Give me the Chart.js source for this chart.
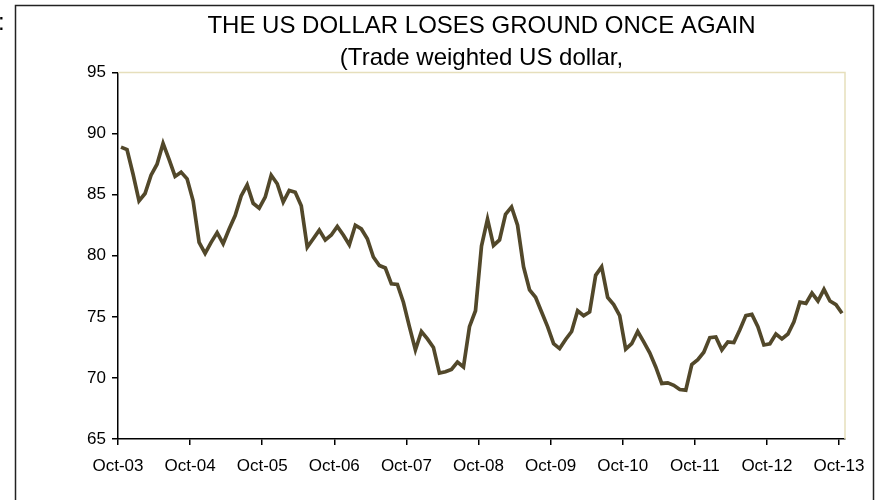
<!DOCTYPE html>
<html>
<head>
<meta charset="utf-8">
<script src="https://cdn.jsdelivr.net/npm/chart.js@4"></script>
<style>
  body { margin: 0; background: #fff; }
  #wrap { width: 880px; height: 500px; }
</style>
</head>
<body>
<div id="wrap"><canvas id="usd" width="880" height="500"></canvas></div>
<script>
// trade weighted US dollar, monthly Oct-03 .. Oct-13
const months = 121;
const dollarIndex = [
  88.9, 88.7, 86.7, 84.5, 85.1, 86.6, 87.5, 89.2, 87.9, 86.5,
  86.85, 86.3, 84.5, 81.1, 80.2, 81.1, 81.9, 81.0, 82.2, 83.3,
  84.9, 85.8, 84.3, 83.9, 84.8, 86.6, 85.9, 84.4, 85.35, 85.2,
  84.1, 80.7, 81.4, 82.1, 81.3, 81.7, 82.4, 81.7, 80.9, 82.5,
  82.2, 81.4, 79.9, 79.2, 79.0, 77.7, 77.65, 76.2, 74.2, 72.3,
  73.8, 73.2, 72.5, 70.4, 70.5, 70.7, 71.3, 70.9, 74.2, 75.5,
  80.8, 83.0, 80.85, 81.3, 83.4, 84.0, 82.5, 79.1, 77.2, 76.6,
  75.4, 74.2, 72.8, 72.4, 73.15, 73.8, 75.5, 75.1, 75.4, 78.4,
  79.1, 76.6, 76.0, 75.1, 72.35, 72.8, 73.8, 72.95, 72.05, 70.9,
  69.55, 69.6, 69.4, 69.05, 69.0, 71.1, 71.5, 72.1, 73.3, 73.35,
  72.3, 72.95, 72.9, 73.95, 75.1, 75.2, 74.2, 72.7, 72.8, 73.6,
  73.2, 73.6, 74.6, 76.2, 76.1, 76.95, 76.3, 77.25, 76.3, 76.0,
  75.3
];
const xLabels = ["Oct-03", "Oct-04", "Oct-05", "Oct-06", "Oct-07", "Oct-08",
  "Oct-09", "Oct-10", "Oct-11", "Oct-12", "Oct-13"];
const yTicks = [65, 70, 75, 80, 85, 90, 95];

const FONT = "'Liberation Sans', Arial, sans-serif";

// outer frame + light border on top/right of plot
const framePlugin = {
  id: "frame",
  beforeDraw(chart) {
    const c = chart.ctx;
    c.save();
    c.strokeStyle = "#222";
    c.lineWidth = 1.5;
    c.strokeRect(15.5, 5.5, 858, 520);
    c.fillStyle = "#000";
    c.font = "24px " + FONT;
    c.fillText(":", -2, 30);
    c.restore();
  },
  afterDatasetsDraw(chart) {
    const a = chart.chartArea, c = chart.ctx;
    c.save();
    c.strokeStyle = "#e6dfbc";
    c.lineWidth = 1.5;
    c.beginPath();
    c.moveTo(a.left, a.top);
    c.lineTo(a.right, a.top);
    c.lineTo(a.right, a.bottom);
    c.stroke();
    c.restore();
  }
};

const pts = dollarIndex.map((v, i) => ({ x: i + 0.5, y: v }));

new Chart(document.getElementById("usd"), {
  type: "line",
  data: {
    datasets: [{
      data: pts,
      borderColor: "#52482a",
      borderWidth: 3.7,
      pointRadius: 0,
      tension: 0
    }]
  },
  options: {
    responsive: false,
    animation: false,
    layout: { padding: { left: 0, right: 35, top: 0, bottom: 0 } },
    plugins: {
      legend: { display: false },
      tooltip: { enabled: false },
      title: {
        display: true,
        fullSize: false,
        text: "THE US DOLLAR LOSES GROUND ONCE AGAIN",
        color: "#000",
        font: { family: FONT, size: 24, weight: "normal", lineHeight: 1.2 },
        padding: { top: 12, bottom: 3 }
      },
      subtitle: {
        display: true,
        fullSize: false,
        text: "(Trade weighted US dollar,",
        color: "#000",
        font: { family: FONT, size: 24, weight: "normal", lineHeight: 1.2 },
        padding: { top: 0, bottom: 0 }
      }
    },
    scales: {
      x: {
        type: "linear",
        min: 0,
        max: months,
        afterBuildTicks: s => { s.ticks = xLabels.map((_, k) => ({ value: k * 12 })); },
        afterFit: s => { s.height = 61; },
        border: { color: "#000", width: 1.5 },
        grid: { drawOnChartArea: false, color: "#000", tickLength: 6, lineWidth: 1.5 },
        ticks: {
          color: "#000",
          font: { family: FONT, size: 17 },
          padding: 11,
          maxRotation: 0,
          autoSkip: false,
          callback: v => xLabels[Math.round(v / 12)]
        }
      },
      y: {
        min: 65,
        max: 95,
        afterBuildTicks: s => { s.ticks = yTicks.map(v => ({ value: v })); },
        afterFit: s => { s.width = 118; },
        border: { color: "#000", width: 1.5 },
        grid: { drawOnChartArea: false, color: "#000", tickLength: 6, lineWidth: 1.5 },
        ticks: {
          color: "#000",
          font: { family: FONT, size: 17 },
          padding: 6
        }
      }
    }
  },
  plugins: [framePlugin]
});
</script>
</body>
</html>
